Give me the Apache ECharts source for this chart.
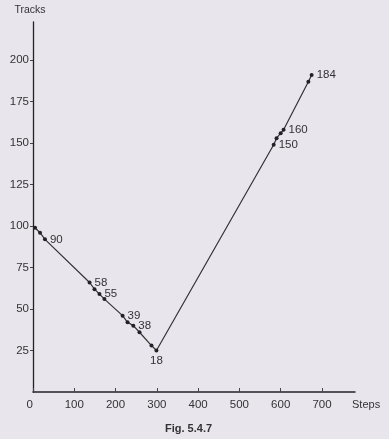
<!DOCTYPE html>
<html><head><meta charset="utf-8">
<script src="https://cdn.jsdelivr.net/npm/echarts@6/dist/echarts.min.js"></script>
<style>html,body{margin:0;padding:0;background:#e9e5ec;}#c{width:389px;height:439px;}</style>
</head><body><div id="c"></div>
<script>
const steps  = [5, 17, 29, 137, 149, 161, 173, 217, 229, 243, 258, 287, 299, 583, 590, 600, 607, 667, 675];
const tracks = [99, 96, 92, 66, 62, 59, 56, 46, 42, 40, 36, 28, 25, 149, 153, 156, 158, 187, 191];
const labels = ['', '', '90', '58', '', '55', '', '39', '', '38', '', '', '18', '150', '', '', '160', '', '184'];
const xTicks = [0, 100, 200, 300, 400, 500, 600, 700];
const yTicks = [25, 50, 75, 100, 125, 150, 175, 200];

const txt = '#333';
const font = 'Liberation Sans';
const chart = echarts.init(document.getElementById('c'));
chart.setOption({
  backgroundColor: '#e9e5ec',
  animation: false,
  title: {text: 'Fig. 5.4.7', left: 160, top: 418, textStyle: {fontSize: 11, fontWeight: 'bold', color: txt, fontFamily: font}},
  grid: {left: 33, right: 34, top: 22, bottom: 47},
  xAxis: {
    type: 'value', min: 0, max: 780,
    name: 'Steps', nameLocation: 'end', nameGap: -3,
    nameTextStyle: {color: txt, fontSize: 11, fontFamily: font, padding: [7, 0, 0, 0], align: 'left', verticalAlign: 'top'},
    axisLine: {lineStyle: {color: '#222', width: 1.5}},
    axisTick: {customValues: xTicks, length: 4, inside: true, lineStyle: {color: '#444'}},
    axisLabel: {customValues: xTicks, color: txt, fontSize: 11.5, fontFamily: font, margin: 7,
      formatter: v => v === 0 ? '0  ' : String(v)},
    splitLine: {show: false}
  },
  yAxis: {
    type: 'value', min: 0, max: 223,
    name: 'Tracks', nameLocation: 'end', nameGap: 6,
    nameTextStyle: {color: txt, fontSize: 10.5, fontFamily: font, align: 'center', padding: [0, 0, 0, -6]},
    axisLine: {show: true, lineStyle: {color: '#222', width: 1.3}},
    axisTick: {customValues: yTicks, length: 3, lineStyle: {color: '#444'}},
    axisLabel: {customValues: yTicks, color: txt, fontSize: 11.5, fontFamily: font, margin: 4},
    splitLine: {show: false}
  },
  series: [{
    type: 'line',
    data: steps.map((s, i) => ({value: [s, tracks[i]], name: labels[i]})),
    symbol: 'circle', symbolSize: 4,
    lineStyle: {color: '#333', width: 1.2},
    itemStyle: {color: '#222'},
    label: {
      show: true, position: 'right', distance: 3,
      color: txt, fontSize: 11.5, fontFamily: font,
      formatter: p => p.name
    },
    labelLayout: {hideOverlap: false}
  }]
});
const opt = chart.getOption();
const d = opt.series[0].data.map((it, i) => {
  if (labels[i] === '18') it.label = {position: 'bottom', distance: 2};
  if (labels[i] === '90') it.label = {position: 'right', offset: [0, -5]};
  if (labels[i] === '150') it.label = {position: 'right', offset: [2, 4]};
  if (labels[i] === '184') it.label = {position: 'right', offset: [2, 0]};
  return it;
});
chart.setOption({series: [{data: d}]});
</script></body></html>
